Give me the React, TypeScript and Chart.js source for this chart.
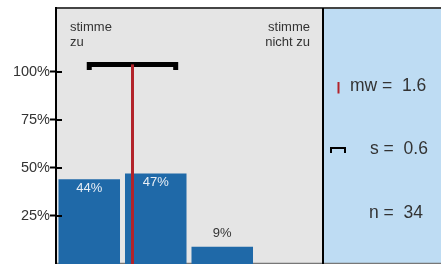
import React, { useEffect, useRef } from 'react';
import { Chart, registerables } from 'chart.js';

Chart.register(...registerables);

const categories = ['1', '2', '3', '4'];
const percentages = [44, 47, 9, 0];
const yTickValues = [25, 50, 75, 100];
const meanValue = 1.65;
const sdValue = 0.65;
const bracketLevel = 103.7;
const bracketCapLevel = 100.8;
const meanLabel = 'mw =  1.6';
const sdLabel = 's =  0.6';
const nLabel = 'n =  34';
const leftAnchorLines = ['stimme', 'zu'];
const rightAnchorLines = ['stimme', 'nicht zu'];

const FONT = '"Liberation Sans", Arial, Helvetica, sans-serif';
const GRAY_PANEL = '#e5e5e5';
const BLUE_PANEL = '#bedcf3';
const BAR_COLOR = '#1f69a8';
const RED = '#b2232a';
const TEXT = '#333333';

export default function App() {
  const ref = useRef<HTMLCanvasElement>(null);

  useEffect(() => {
    const decorPlugin = {
      id: 'decor',
      beforeDraw(chart: any) {
        const { ctx, chartArea, width } = chart;
        const { left, right, top, bottom } = chartArea;
        ctx.save();
        ctx.fillStyle = GRAY_PANEL;
        ctx.fillRect(left, top, right - left, bottom - top);
        ctx.fillStyle = BLUE_PANEL;
        ctx.fillRect(right, top, width - right, bottom - top);
        ctx.strokeStyle = '#444';
        ctx.lineWidth = 2;
        ctx.beginPath();
        ctx.moveTo(left, top);
        ctx.lineTo(width, top);
        ctx.stroke();
        ctx.strokeStyle = '#777';
        ctx.lineWidth = 1.5;
        ctx.beginPath();
        ctx.moveTo(left, bottom - 0.5);
        ctx.lineTo(width, bottom - 0.5);
        ctx.stroke();
        ctx.restore();
      },
      afterDatasetsDraw(chart: any) {
        const { ctx, chartArea, scales } = chart;
        const { left, right, top, bottom } = chartArea;
        const yScale = scales.y;
        ctx.save();
        ctx.strokeStyle = '#000';
        ctx.lineWidth = 2;
        ctx.beginPath();
        ctx.moveTo(right + 1, top);
        ctx.lineTo(right + 1, bottom);
        ctx.stroke();
        ctx.lineWidth = 2;
        yTickValues.forEach((v) => {
          const py = Math.round(yScale.getPixelForValue(v));
          ctx.beginPath();
          ctx.moveTo(left, py);
          ctx.lineTo(left + 6, py);
          ctx.stroke();
        });
        const meta = chart.getDatasetMeta(2);
        ctx.font = `13px ${FONT}`;
        ctx.textAlign = 'center';
        ctx.textBaseline = 'middle';
        meta.data.forEach((bar: any, i: number) => {
          const v = percentages[i];
          if (!v) return;
          const { x, y } = bar.getProps(['x', 'y'], true);
          if (v >= 20) {
            ctx.fillStyle = '#e8eef5';
            ctx.fillText(`${v}%`, x, y + 9);
          } else {
            ctx.fillStyle = TEXT;
            ctx.fillText(`${v}%`, x, y - 13);
          }
        });
        ctx.font = `13px ${FONT}`;
        ctx.fillStyle = TEXT;
        ctx.textAlign = 'left';
        leftAnchorLines.forEach((t, i) => ctx.fillText(t, left + 14, top + 19 + i * 15));
        ctx.textAlign = 'right';
        rightAnchorLines.forEach((t, i) => ctx.fillText(t, right - 12, top + 19 + i * 15));
        ctx.strokeStyle = RED;
        ctx.lineWidth = 2;
        ctx.beginPath();
        ctx.moveTo(338.5, 82);
        ctx.lineTo(338.5, 93.5);
        ctx.stroke();
        ctx.strokeStyle = '#000';
        ctx.lineWidth = 2;
        ctx.beginPath();
        ctx.moveTo(331, 153);
        ctx.lineTo(331, 148);
        ctx.lineTo(345, 148);
        ctx.lineTo(345, 153);
        ctx.stroke();
        ctx.font = `17.5px ${FONT}`;
        ctx.fillStyle = TEXT;
        ctx.textAlign = 'left';
        ctx.fillText(meanLabel, 350, 86);
        ctx.fillText(sdLabel, 370, 149);
        ctx.fillText(nLabel, 369, 213);
        ctx.restore();
      },
    };

    const chart = new Chart(ref.current!, {
      type: 'bar',
      data: {
        labels: categories,
        datasets: [
          {
            type: 'line',
            data: [
              { x: meanValue, y: 0 },
              { x: meanValue, y: bracketLevel },
            ],
            xAxisID: 'xm',
            yAxisID: 'y',
            borderColor: RED,
            borderWidth: 3,
            pointRadius: 0,
            borderCapStyle: 'butt',
          } as any,
          {
            type: 'line',
            data: [
              { x: meanValue - sdValue, y: bracketCapLevel },
              { x: meanValue - sdValue, y: bracketLevel },
              { x: meanValue + sdValue, y: bracketLevel },
              { x: meanValue + sdValue, y: bracketCapLevel },
            ],
            xAxisID: 'xm',
            yAxisID: 'y',
            borderColor: '#000',
            borderWidth: 5,
            pointRadius: 0,
            borderCapStyle: 'butt',
            borderJoinStyle: 'miter',
          } as any,
          {
            type: 'bar',
            data: percentages,
            xAxisID: 'x',
            yAxisID: 'y',
            backgroundColor: BAR_COLOR,
            borderWidth: 0,
            grouped: false,
            categoryPercentage: 1,
            barPercentage: 0.925,
          } as any,
        ],
      },
      options: {
        responsive: false,
        animation: false,
        devicePixelRatio: 1,
        layout: { padding: { top: 8, right: 119, bottom: 0, left: 0 } },
        plugins: { legend: { display: false }, tooltip: { enabled: false } },
        scales: {
          x: { type: 'category', display: false, offset: true },
          xm: {
            type: 'linear',
            display: false,
            offset: false,
            min: 0.5,
            max: 4.5,
            grid: { offset: false },
          },
          y: {
            min: 0,
            max: 133,
            afterBuildTicks: (scale: any) => {
              scale.ticks = yTickValues.map((v) => ({ value: v }));
            },
            afterFit: (scale: any) => {
              scale.width = 56;
              scale.paddingTop = 0;
              scale.paddingBottom = 0;
            },
            grid: {
              drawOnChartArea: false,
              drawTicks: true,
              tickLength: 6,
              tickWidth: 2,
              tickColor: '#000',
            },
            border: { display: true, color: '#000', width: 2 },
            ticks: {
              padding: 0,
              color: TEXT,
              font: { family: FONT, size: 14.5 },
              callback: (v: any) => `${v}%`,
            },
          },
        },
      } as any,
      plugins: [decorPlugin],
    });
    return () => chart.destroy();
  }, []);

  return (
    <div style={{ position: 'fixed', left: 0, top: 0, width: 441, height: 264, background: '#fff' }}>
      <canvas ref={ref} width={441} height={264} style={{ display: 'block' }} />
    </div>
  );
}
